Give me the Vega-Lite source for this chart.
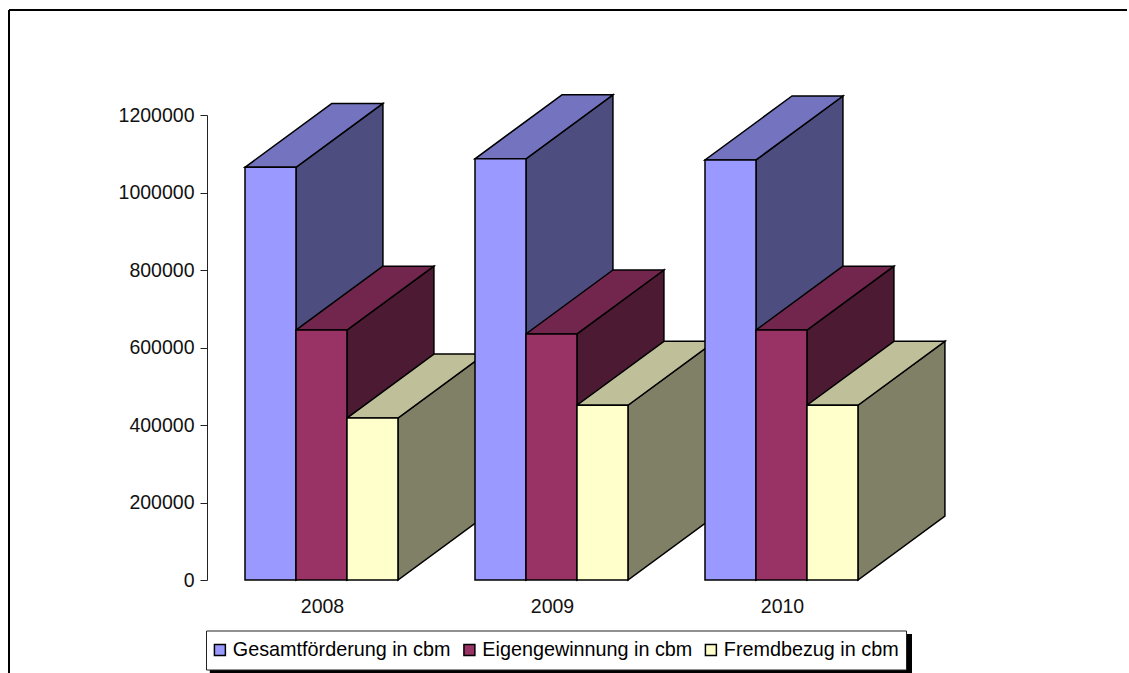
{
  "$schema": "https://vega.github.io/schema/vega-lite/v6.json",
  "autosize": {"type": "none"},
  "width": 1120,
  "height": 663,
  "padding": {"left": 9, "top": 10, "right": 0, "bottom": 0},
  "background": "white",
  "config": {
    "view": {"stroke": null},
    "font": "Liberation Sans",
    "axis": {"labelFont": "Liberation Sans", "labelFontSize": 19.5, "labelColor": "#111111", "title": null, "grid": false}
  },
  "data": {
    "values": [
      {"year": 2008, "series": "Gesamtförderung in cbm", "value": 1065000},
      {"year": 2008, "series": "Eigengewinnung in cbm", "value": 645000},
      {"year": 2008, "series": "Fremdbezug in cbm", "value": 418000},
      {"year": 2009, "series": "Gesamtförderung in cbm", "value": 1087000},
      {"year": 2009, "series": "Eigengewinnung in cbm", "value": 635000},
      {"year": 2009, "series": "Fremdbezug in cbm", "value": 451000},
      {"year": 2010, "series": "Gesamtförderung in cbm", "value": 1084000},
      {"year": 2010, "series": "Eigengewinnung in cbm", "value": 645000},
      {"year": 2010, "series": "Fremdbezug in cbm", "value": 451000}
    ]
  },
  "transform": [
    {"calculate": "indexof(['Gesamtförderung in cbm','Eigengewinnung in cbm','Fremdbezug in cbm'], datum.series)", "as": "slot"},
    {"calculate": "datum.year - 0.3348 + 0.2217 * datum.slot", "as": "xl"},
    {"calculate": "datum.xl + 0.2217", "as": "xr"},
    {"calculate": "0", "as": "near"},
    {"calculate": "1", "as": "far"},
    {"fold": ["near", "far"], "as": ["edge", "t"]},
    {"calculate": "datum.t * 0.378", "as": "dx"},
    {"calculate": "datum.t * 165000", "as": "dy"},
    {"calculate": "datum.xr + datum.dx", "as": "sideX"},
    {"calculate": "datum.xl + datum.dx", "as": "topX"},
    {"calculate": "datum.xr + datum.dx", "as": "topX2"},
    {"calculate": "datum.value + datum.dy", "as": "upper"}
  ],
  "layer": [
    {
      "mark": {"type": "rule", "color": "black", "strokeWidth": 1.5},
      "encoding": {
        "x": {"datum": 2006.6391, "type": "quantitative", "scale": {"domain": [2007.5, 2010.5], "range": [198, 888]},
          "axis": {"values": [2008, 2009, 2010], "format": "d", "domain": false, "ticks": false, "offset": -93, "labelPadding": 17, "orient": "bottom"}},
        "y": {"datum": -240000, "type": "quantitative", "scale": {"domain": [0, 1200000], "range": [570, 105], "nice": false},
          "axis": {"values": [0, 200000, 400000, 600000, 800000, 1000000, 1200000], "format": "d", "offset": -198, "tickSize": 7, "labelPadding": 6, "domainColor": "#222222", "tickColor": "#222222", "orient": "left"}},
        "y2": {"datum": 1470968}
      }
    },
    {
      "mark": {"type": "rule", "color": "black", "strokeWidth": 1.5},
      "encoding": {
        "y": {"datum": 1470968, "type": "quantitative", "scale": {"domain": [0, 1200000], "range": [570, 105], "nice": false}},
        "x": {"datum": 2006.6391, "type": "quantitative", "scale": {"domain": [2007.5, 2010.5], "range": [198, 888]}},
        "x2": {"datum": 2011.5}
      }
    },
    {
      "transform": [{"filter": "datum.slot == 0"}],
      "mark": {"type": "area", "color": "#4D4D80", "stroke": "black", "strokeWidth": 1.5},
      "encoding": {
        "detail": {"field": "year"},
        "x": {"field": "sideX", "type": "quantitative", "scale": {"domain": [2007.5, 2010.5], "range": [198, 888]}},
        "y": {"field": "upper", "type": "quantitative", "stack": null, "scale": {"domain": [0, 1200000], "range": [570, 105], "nice": false}},
        "y2": {"field": "dy"}
      }
    },
    {
      "transform": [{"filter": "datum.slot == 0"}],
      "mark": {"type": "area", "orient": "horizontal", "color": "#7373BF", "stroke": "black", "strokeWidth": 1.5},
      "encoding": {
        "detail": {"field": "year"},
        "y": {"field": "upper", "type": "quantitative", "scale": {"domain": [0, 1200000], "range": [570, 105], "nice": false}},
        "x": {"field": "topX", "type": "quantitative", "stack": null, "scale": {"domain": [2007.5, 2010.5], "range": [198, 888]}},
        "x2": {"field": "topX2"}
      }
    },
    {
      "transform": [{"filter": "datum.slot == 1"}],
      "mark": {"type": "area", "color": "#4D1A33", "stroke": "black", "strokeWidth": 1.5},
      "encoding": {
        "detail": {"field": "year"},
        "x": {"field": "sideX", "type": "quantitative", "scale": {"domain": [2007.5, 2010.5], "range": [198, 888]}},
        "y": {"field": "upper", "type": "quantitative", "stack": null, "scale": {"domain": [0, 1200000], "range": [570, 105], "nice": false}},
        "y2": {"field": "dy"}
      }
    },
    {
      "transform": [{"filter": "datum.slot == 1"}],
      "mark": {"type": "area", "orient": "horizontal", "color": "#73264D", "stroke": "black", "strokeWidth": 1.5},
      "encoding": {
        "detail": {"field": "year"},
        "y": {"field": "upper", "type": "quantitative", "scale": {"domain": [0, 1200000], "range": [570, 105], "nice": false}},
        "x": {"field": "topX", "type": "quantitative", "stack": null, "scale": {"domain": [2007.5, 2010.5], "range": [198, 888]}},
        "x2": {"field": "topX2"}
      }
    },
    {
      "transform": [{"filter": "datum.slot == 2"}],
      "mark": {"type": "area", "color": "#808066", "stroke": "black", "strokeWidth": 1.5},
      "encoding": {
        "detail": {"field": "year"},
        "x": {"field": "sideX", "type": "quantitative", "scale": {"domain": [2007.5, 2010.5], "range": [198, 888]}},
        "y": {"field": "upper", "type": "quantitative", "stack": null, "scale": {"domain": [0, 1200000], "range": [570, 105], "nice": false}},
        "y2": {"field": "dy"}
      }
    },
    {
      "transform": [{"filter": "datum.slot == 2"}],
      "mark": {"type": "area", "orient": "horizontal", "color": "#BFBF99", "stroke": "black", "strokeWidth": 1.5},
      "encoding": {
        "detail": {"field": "year"},
        "y": {"field": "upper", "type": "quantitative", "scale": {"domain": [0, 1200000], "range": [570, 105], "nice": false}},
        "x": {"field": "topX", "type": "quantitative", "stack": null, "scale": {"domain": [2007.5, 2010.5], "range": [198, 888]}},
        "x2": {"field": "topX2"}
      }
    },
    {
      "transform": [{"filter": "datum.edge == 'near'"}],
      "mark": {"type": "rect", "stroke": "black", "strokeWidth": 1.5},
      "encoding": {
        "x": {"field": "xl", "type": "quantitative", "scale": {"domain": [2007.5, 2010.5], "range": [198, 888]}},
        "x2": {"field": "xr"},
        "y": {"field": "value", "type": "quantitative", "stack": null, "scale": {"domain": [0, 1200000], "range": [570, 105], "nice": false}},
        "y2": {"datum": 0},
        "color": {
          "field": "series",
          "type": "nominal",
          "scale": {
            "domain": ["Gesamtförderung in cbm", "Eigengewinnung in cbm", "Fremdbezug in cbm"],
            "range": ["#9999FF", "#993366", "#FFFFCC"]
          },
          "legend": {
            "title": null,
            "orient": "none",
            "legendX": 197,
            "legendY": 620.5,
            "direction": "horizontal",
            "columns": 3,
            "fillColor": "white",
            "strokeColor": "#222222",
            "padding": 7,
            "columnPadding": 11.5,
            "symbolType": "square",
            "symbolSize": 120,
            "symbolOffset": -3,
            "symbolStrokeColor": "black",
            "symbolStrokeWidth": 1.5,
            "symbolOpacity": 1,
            "clipHeight": 25,
            "labelFont": "Liberation Sans",
            "labelFontSize": 19.8,
            "labelColor": "black",
            "labelLimit": 400,
            "labelOffset": 3
          }
        }
      }
    },
    {
      "mark": {"type": "rect", "color": "black"},
      "encoding": {
        "x": {"datum": 2007.513, "type": "quantitative", "scale": {"domain": [2007.5, 2010.5], "range": [198, 888]}},
        "x2": {"datum": 2010.565},
        "y": {"datum": -139360, "type": "quantitative", "scale": {"domain": [0, 1200000], "range": [570, 105], "nice": false}},
        "y2": {"datum": -245000}
      }
    }
  ]
}
